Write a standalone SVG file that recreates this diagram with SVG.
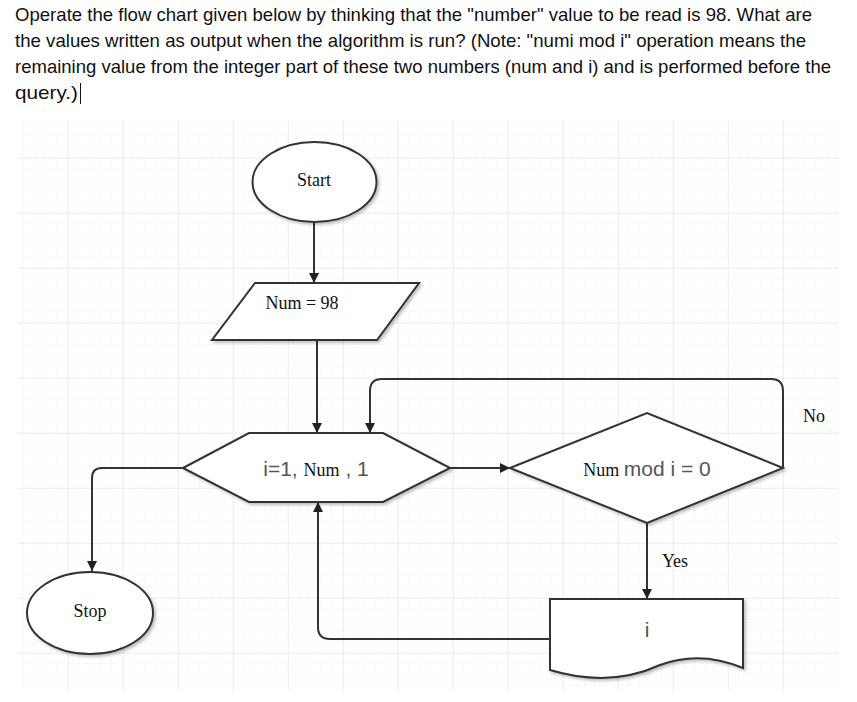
<svg xmlns="http://www.w3.org/2000/svg" width="857" height="702" viewBox="0 0 857 702">
<defs>
<pattern id="minor" x="13" y="4" width="11" height="11" patternUnits="userSpaceOnUse">
<path d="M11 0V11M0 11H11" fill="none" stroke="#f3f3f3" stroke-width="1"/>
</pattern>
<pattern id="major" x="13" y="48" width="55" height="55" patternUnits="userSpaceOnUse">
<path d="M0 0V55M0 0H55" fill="none" stroke="#e4e4e4" stroke-width="1"/>
</pattern>
<marker id="arr" viewBox="0 0 10 10" refX="10" refY="5" markerWidth="10" markerHeight="10" orient="auto" markerUnits="userSpaceOnUse">
<path d="M0 0L10 5L0 10z" fill="#222"/>
</marker>
<filter id="sh" x="-10%" y="-10%" width="130%" height="130%">
<feDropShadow dx="2" dy="2" stdDeviation="1.5" flood-color="#000" flood-opacity="0.25"/>
</filter>
</defs>
<style>
.q{font-family:"Liberation Sans",Arial,sans-serif;font-size:19px;fill:#111}
.shape{fill:#fff;stroke:#333;stroke-width:2;filter:url(#sh)}
.conn path{fill:none;stroke:#333;stroke-width:2}
.serif{font-family:"Liberation Serif","Times New Roman",serif;font-size:18px;fill:#111}
.sans{font-family:"Liberation Sans",Arial,sans-serif;font-size:21px;fill:#555}
</style>
<rect width="857" height="702" fill="#fff"/>
<text class="q" x="15" y="21" textLength="797" lengthAdjust="spacingAndGlyphs">Operate the flow chart given below by thinking that the "number" value to be read is 98. What are</text>
<text class="q" x="15" y="47" textLength="791" lengthAdjust="spacingAndGlyphs">the values written as output when the algorithm is run? (Note: "numi mod i" operation means the</text>
<text class="q" x="15" y="73" textLength="816" lengthAdjust="spacingAndGlyphs">remaining value from the integer part of these two numbers (num and i) and is performed before the</text>
<text class="q" x="15" y="99" textLength="63" lengthAdjust="spacingAndGlyphs">query.)</text>
<path d="M80.5 83V104" stroke="#111" stroke-width="1"/>
<rect x="18" y="120" width="820" height="570" fill="url(#minor)"/>
<rect x="18" y="120" width="820" height="570" fill="url(#major)"/>
<g class="conn">
<path d="M314 222V283" marker-end="url(#arr)"/>
<path d="M317 340V433" marker-end="url(#arr)"/>
<path d="M183 468H102Q92 468 92 478V571" marker-end="url(#arr)"/>
<path d="M450 468H510" marker-end="url(#arr)"/>
<path d="M783 468V391Q783 379 771 379H382Q370 379 370 391V433" marker-end="url(#arr)"/>
<path d="M647 523V599" marker-end="url(#arr)"/>
<path d="M550 639H330Q318 639 318 627V502" marker-end="url(#arr)"/>
</g>
<g id="start"><ellipse class="shape" cx="314.5" cy="182" rx="62" ry="40"/><text class="serif" x="314" y="186" text-anchor="middle">Start</text></g>
<g id="input"><path class="shape" d="M255 283H419L377 340H212Z"/><text class="serif" x="302" y="309" text-anchor="middle">Num = 98</text></g>
<g id="loop"><path class="shape" d="M183 468L249 433H383L450 468L383 502H249Z"/><text x="316" y="476" text-anchor="middle"><tspan class="sans">i=1, </tspan><tspan class="serif">Num</tspan><tspan class="sans"> , 1</tspan></text></g>
<g id="decision"><path class="shape" d="M510 468L647 413L783 468L647 523Z"/><text x="647" y="476" text-anchor="middle"><tspan class="serif">Num </tspan><tspan class="sans"> mod i = 0</tspan></text></g>
<g id="output"><path class="shape" d="M550 599H743V668Q700 650 660 665Q610 688 550 670Z"/><text class="sans" x="647" y="637" text-anchor="middle">i</text></g>
<g id="stop"><ellipse class="shape" cx="90" cy="613" rx="63" ry="41"/><text class="serif" x="90" y="617" text-anchor="middle">Stop</text></g>
<text class="serif" x="814" y="422" text-anchor="middle">No</text>
<text class="serif" x="675" y="567" text-anchor="middle">Yes</text>
</svg>
